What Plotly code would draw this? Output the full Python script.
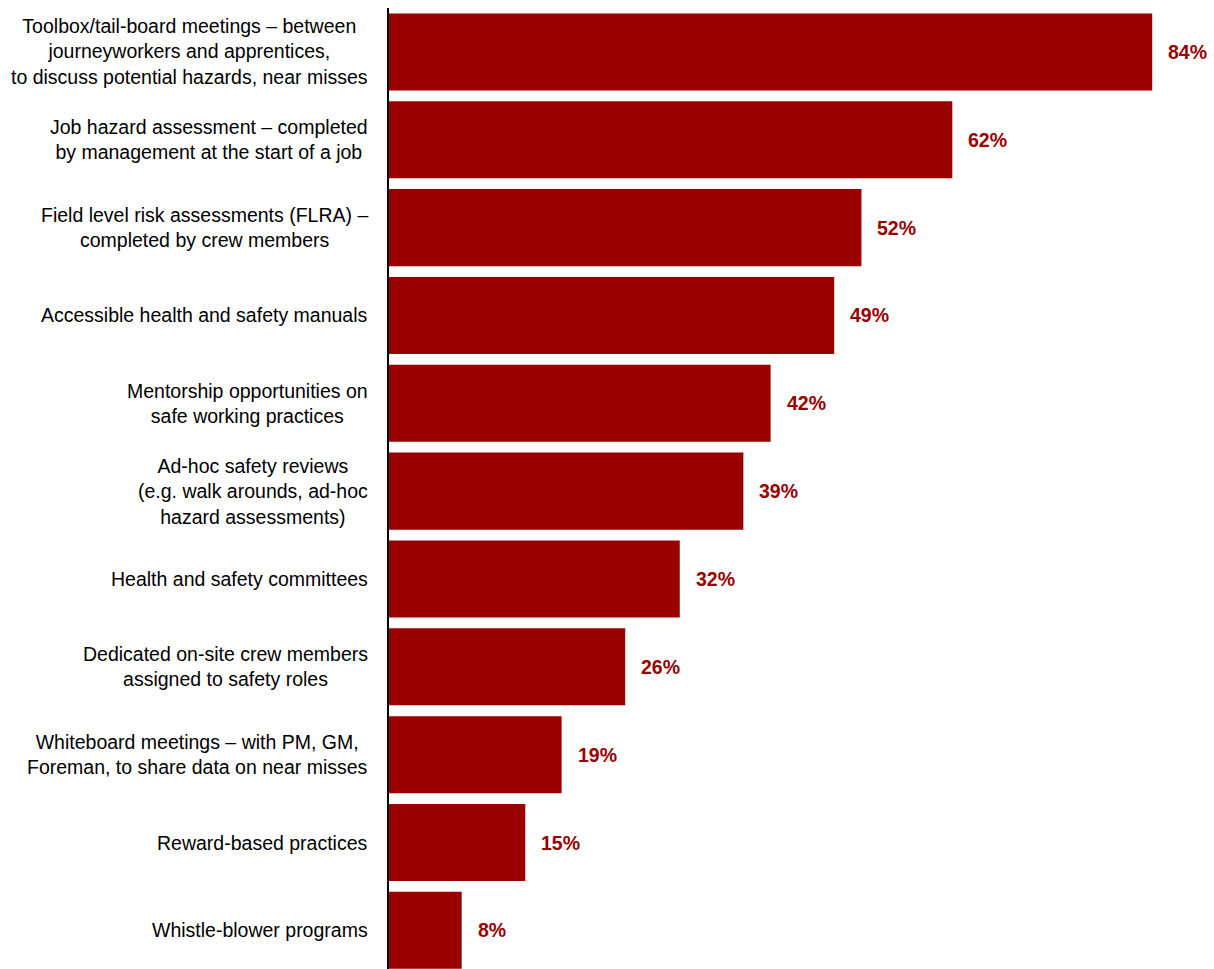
import plotly.graph_objects as go

categories = [
    "Toolbox/tail-board meetings – between<br>journeyworkers and apprentices,<br>to discuss potential hazards, near misses",
    "Job hazard assessment – completed<br>by management at the start of a job",
    "Field level risk assessments (FLRA) –<br>completed by crew members",
    "Accessible health and safety manuals",
    "Mentorship opportunities on<br>safe working practices",
    "Ad-hoc safety reviews<br>(e.g. walk arounds, ad-hoc<br>hazard assessments)",
    "Health and safety committees",
    "Dedicated on-site crew members<br>assigned to safety roles",
    "Whiteboard meetings – with PM, GM,<br>Foreman, to share data on near misses",
    "Reward-based practices",
    "Whistle-blower programs",
]
values = [84, 62, 52, 49, 42, 39, 32, 26, 19, 15, 8]

BAR_COLOR = "#990000"
FONT = "Liberation Sans Narrow, Arial Narrow, Liberation Sans, Arial, sans-serif"

positions = list(range(len(categories)))

fig = go.Figure(
    go.Bar(
        x=values,
        y=positions,
        orientation="h",
        marker=dict(color=BAR_COLOR, line=dict(width=0)),
        width=0.877,
        hoverinfo="skip",
    )
)

annotations = []
for pos, cat, val in zip(positions, categories, values):
    # category label, centred lines, right edge just left of the axis
    annotations.append(dict(
        x=0, xref="paper", y=pos, yref="y",
        text=cat, showarrow=False,
        xanchor="right", yanchor="middle", align="center",
        xshift=-19,
        font=dict(family=FONT, size=19.5, color="#000000"),
    ))
    # value label after the bar end
    annotations.append(dict(
        x=val, xref="x", y=pos, yref="y",
        text=f"<b>{val}%</b>", showarrow=False,
        xanchor="left", yanchor="middle",
        xshift=14,
        font=dict(family=FONT, size=19.5, color=BAR_COLOR),
    ))

fig.update_layout(
    width=1214, height=969,
    margin=dict(l=389, r=10, t=8, b=0),
    paper_bgcolor="white", plot_bgcolor="white",
    showlegend=False,
    annotations=annotations,
    xaxis=dict(range=[0, 89.7], visible=False, fixedrange=True),
    yaxis=dict(
        range=[10.44, -0.5], showticklabels=False, ticks="",
        showgrid=False, zeroline=False,
        showline=True, linecolor="#000000", linewidth=2,
        fixedrange=True,
    ),
)

fig.write_html("out.html")
